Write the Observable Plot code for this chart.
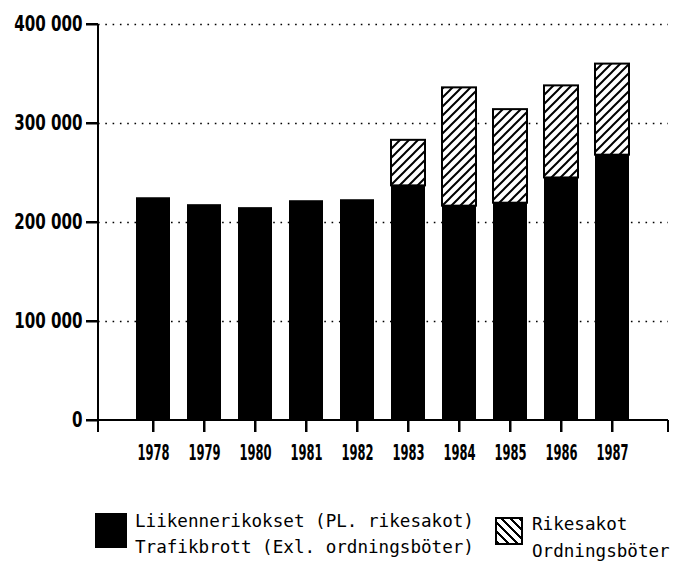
<!DOCTYPE html>
<html>
<head>
<meta charset="utf-8">
<script src="https://cdn.jsdelivr.net/npm/d3@7"></script>
<script src="https://cdn.jsdelivr.net/npm/@observablehq/plot@0.6"></script>
<style>
  body { margin: 0; background: #fff; }
  #chart svg { display: block; }
  #legend { position: relative; width: 687px; height: 84px; font-family: "DejaVu Sans Mono", monospace; font-size: 17.6px; color: #000; }
  #legend .sw-black { position: absolute; left: 95px; top: 33px; width: 32px; height: 35px; background: #000; }
  #legend .sw-hatch { position: absolute; left: 495px; top: 37px; width: 28px; height: 28px; box-sizing: border-box; border: 2px solid #000;
    background: repeating-linear-gradient(45deg, #000 0 2px, #fff 2px 6.5px); }
  #legend .t1 { position: absolute; left: 135px; top: 28px; line-height: 26px; white-space: pre; }
  #legend .t2 { position: absolute; left: 532px; top: 31px; line-height: 27px; white-space: pre; }
</style>
</head>
<body>
<div id="chart"></div>
<div id="legend"></div>
<script>
// ---- data ----
const years = ["1978", "1979", "1980", "1981", "1982", "1983", "1984", "1985", "1986", "1987"];
const liikennerikokset = [225000, 218000, 215000, 222000, 223000, 237000, 216500, 219500, 245000, 268000];
const rikesakot = [0, 0, 0, 0, 0, 46000, 119500, 94500, 93000, 92000];
const yTicks = [0, 100000, 200000, 300000, 400000];
const yTickLabels = ["0", "100 000", "200 000", "300 000", "400 000"];
const legendBlack = ["Liikennerikokset (PL. rikesakot)", "Trafikbrott (Exl. ordningsböter)"];
const legendHatch = ["Rikesakot", "Ordningsböter"];

const rows = years.map((year, i) => ({
  year,
  black: liikennerikokset[i],
  rike: rikesakot[i],
  total: liikennerikokset[i] + rikesakot[i]
}));

// axis lines and tick marks, placed through the plot's own scales and dimensions
const axisLines = (...args) => {
  const dims = args.find(a => a && a.marginLeft !== undefined && a.width !== undefined);
  const sc = args.find(a => a && typeof a.y === "function" && typeof a.x === "function");
  const l = dims.marginLeft, r = dims.width - dims.marginRight;
  const t = dims.marginTop, b = dims.height - dims.marginBottom;
  let d = `M${l},${t}V${b + 12}M${l},${b}H${r}M${r},${b}V${b + 12}`;
  if (sc) {
    const bw = sc.x.bandwidth ? sc.x.bandwidth() : 0;
    for (const v of yTicks) d += `M${l - 12},${sc.y(v)}H${l}`;
    for (const yr of years) d += `M${sc.x(yr) + bw / 2},${b}V${b + 12}`;
  }
  const p = document.createElementNS("http://www.w3.org/2000/svg", "path");
  p.setAttribute("d", d);
  p.setAttribute("stroke", "black");
  p.setAttribute("stroke-width", 2);
  p.setAttribute("fill", "none");
  return p;
};

const svg = Plot.plot({
  width: 687,
  height: 480,
  marginLeft: 98,
  marginRight: 19,
  marginTop: 24,
  marginBottom: 60,
  x: { type: "band", domain: years, paddingInner: 0.33, paddingOuter: 0.665, align: 0.5, label: null },
  y: { domain: [0, 400000], label: null },
  style: { fontFamily: "DejaVu Sans", color: "black", background: "white", overflow: "visible" },
  marks: [
    Plot.gridY(yTicks.filter(d => d > 0), { stroke: "black", strokeOpacity: 1, strokeWidth: 1.6, strokeDasharray: "1.6,5.7" }),
    Plot.barY(rows, { x: "year", y1: 0, y2: "black", fill: "black" }),
    Plot.barY(rows.filter(d => d.rike > 0), { x: "year", y1: "black", y2: "total", fill: "url(#hatch)", stroke: "black", strokeWidth: 2 }),
    axisLines,
    Plot.axisY(yTicks, { label: null, tickSize: 12, tickPadding: 4, stroke: "black", strokeWidth: 2, fontSize: 21, fontWeight: "bold",
      tickFormat: d => yTickLabels[yTicks.indexOf(d)] }),
    Plot.axisX(years, { label: null, tickSize: 12, tickPadding: 13, stroke: "black", strokeWidth: 2, fontSize: 21, fontWeight: "bold" })
  ]
});

// hatch pattern for the stacked segment
const defs = d3.select(svg).insert("defs", ":first-child");
const pat = defs.append("pattern").attr("id", "hatch").attr("patternUnits", "userSpaceOnUse").attr("width", 9).attr("height", 9);
pat.append("rect").attr("width", 9).attr("height", 9).attr("fill", "white");
pat.append("path").attr("d", "M-1,1L1,-1M0,9L9,0M8,10L10,8").attr("stroke", "black").attr("stroke-width", 2);

// condense tick label glyphs horizontally (narrow printer font look)
function squeeze(selector, s) {
  svg.querySelectorAll(selector).forEach(t => {
    t.setAttribute("font-weight", "bold");
    const tr = t.getAttribute("transform");
    if (tr) t.setAttribute("transform", tr + ` scale(${s},1)`);
    else {
      const x = +t.getAttribute("x") || 0;
      t.setAttribute("transform", `translate(${x},0) scale(${s},1) translate(${-x},0)`);
    }
  });
}
squeeze('g[aria-label="x-axis tick label"] text', 0.55);
squeeze('g[aria-label="y-axis tick label"] text', 0.72);

document.getElementById("chart").appendChild(svg);

// legend below the chart
const lg = document.getElementById("legend");
lg.innerHTML = `<div class="sw-black"></div><div class="t1">${legendBlack.join("\n")}</div>` +
  `<div class="sw-hatch"></div><div class="t2">${legendHatch.join("\n")}</div>`;
</script>
</body>
</html>
